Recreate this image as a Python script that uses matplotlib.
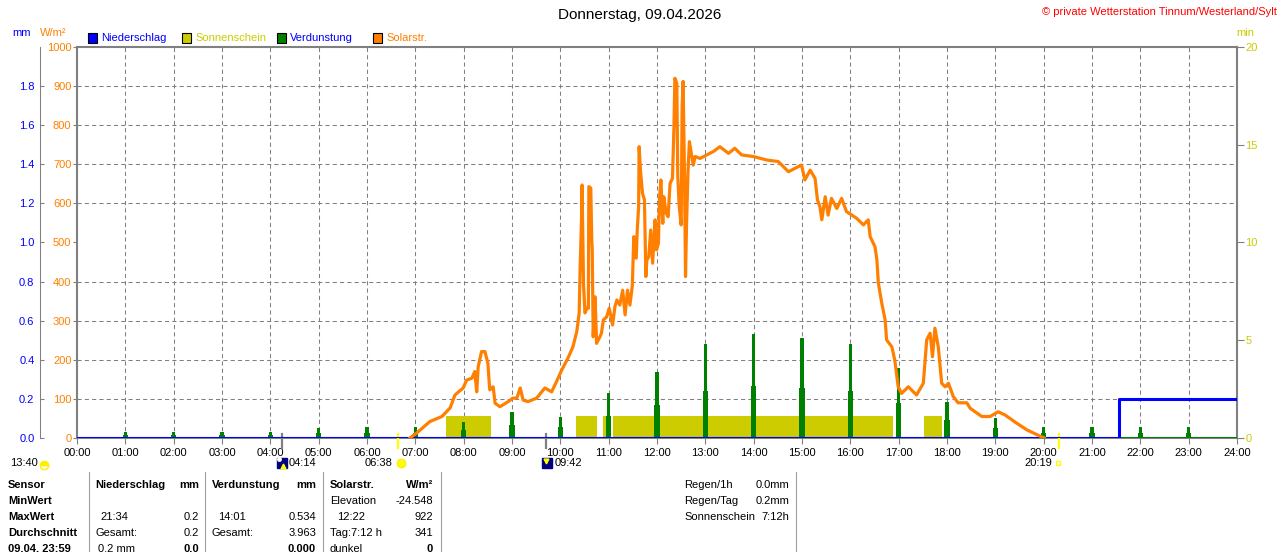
import numpy as np
import matplotlib
matplotlib.use("Agg")
import matplotlib.pyplot as plt
from matplotlib.patches import Rectangle
from matplotlib.lines import Line2D
from matplotlib import transforms

plt.rcParams['font.family'] = ['Liberation Sans', 'DejaVu Sans']
plt.rcParams['font.size'] = 8

# ---- Daten ----
hours = list(range(25))
hour_labels = [f"{h:02d}:00" for h in hours]

# Solarstrahlung W/m2, Zeit in Stunden
solar_t = [6.89, 7.03, 7.30, 7.55, 7.72, 7.82, 7.99, 8.06, 8.17, 8.23, 8.27, 8.30,
           8.37, 8.44, 8.50, 8.54, 8.61, 8.65, 8.75, 8.92, 9.02, 9.10, 9.17, 9.23,
           9.33, 9.51, 9.68, 9.82, 9.92, 10.03, 10.16, 10.26, 10.34, 10.39, 10.41,
           10.44, 10.45, 10.48, 10.51, 10.55, 10.58, 10.59, 10.63, 10.65, 10.66,
           10.68, 10.72, 10.75, 10.82, 10.85, 10.89, 10.96, 11.01, 11.05, 11.08,
           11.13, 11.17, 11.23, 11.29, 11.34, 11.39, 11.44, 11.49, 11.52, 11.57,
           11.59, 11.62, 11.63, 11.66, 11.70, 11.74, 11.77, 11.79, 11.83, 11.87,
           11.91, 11.96, 11.99, 12.03, 12.05, 12.08, 12.12, 12.14, 12.19, 12.23,
           12.27, 12.32, 12.35, 12.37, 12.41, 12.43, 12.46, 12.50, 12.52, 12.54,
           12.57, 12.59, 12.61, 12.64, 12.67, 12.72, 12.75, 12.79, 12.89, 13.17,
           13.30, 13.48, 13.61, 13.75, 13.99, 14.27, 14.51, 14.72, 14.86, 14.99,
           15.06, 15.17, 15.27, 15.32, 15.37, 15.41, 15.48, 15.54, 15.61, 15.72,
           15.82, 15.92, 16.13, 16.27, 16.37, 16.41, 16.51, 16.55, 16.58, 16.65,
           16.72, 16.75, 16.86, 16.92, 16.99, 17.06, 17.20, 17.37, 17.51, 17.58,
           17.65, 17.70, 17.75, 17.82, 17.89, 17.96, 18.03, 18.13, 18.23, 18.41,
           18.48, 18.72, 18.89, 19.06, 19.20, 19.44, 19.65, 19.92, 20.01]
solar_w = [0, 13, 42, 55, 77, 110, 128, 148, 153, 170, 118, 182,
           221, 221, 192, 123, 131, 89, 80, 93, 102, 102, 128, 97,
           93, 102, 128, 118, 144, 174, 205, 233, 272, 320, 438,
           566, 647, 391, 320, 332, 332, 643, 639, 506, 481,
           259, 361, 242, 259, 268, 302, 310, 332, 310, 289,
           336, 353, 340, 378, 315, 378, 340, 391, 515, 460,
           528, 592, 745, 681, 626, 609, 413, 455, 464, 532,
           447, 558, 481, 498, 609, 660, 549, 617, 575, 566,
           651, 664, 792, 920, 907, 668, 592, 545, 847, 912,
           664, 413, 540, 677, 758, 720, 698, 720, 715, 733,
           745, 728, 741, 724, 720, 711, 707, 681, 690, 698,
           660, 685, 664, 609, 592, 558, 617, 570, 613, 587,
           613, 579, 562, 545, 558, 515, 489, 455, 396, 345,
           302, 251, 233, 199, 131, 114, 131, 110, 140, 251,
           268, 208, 281, 233, 140, 131, 140, 106, 90, 90,
           76, 55, 55, 67, 59, 38, 21, 5, 0]

# Verdunstung mm je Stunde (Spitze und breiter Sockel)
evap_h = list(range(1, 24))
evap_peak = [0.03, 0.03, 0.03, 0.03, 0.053, 0.055, 0.055, 0.084, 0.131, 0.106,
             0.229, 0.336, 0.481, 0.534, 0.51, 0.481, 0.357, 0.183, 0.104,
             0.055, 0.055, 0.055, 0.055]
evap_base = [0.015, 0.015, 0.015, 0.015, 0.024, 0.024, 0.027, 0.041, 0.066, 0.056,
             0.11, 0.169, 0.242, 0.268, 0.254, 0.242, 0.177, 0.092, 0.049,
             0.024, 0.024, 0.024, 0.024]

# Sonnenschein-Bloecke (min)
sun_start = [7.64, 10.32, 10.88, 11.10, 17.52]
sun_end = [8.56, 10.75, 11.04, 16.88, 17.89]
sun_min = 1.1

# Niederschlag mm
rain_t = [0, 21 + 34 / 60, 24]
rain_mm = [0, 0.2, 0.2]

# Sonne / Mond
moon_rise = 4 + 14 / 60
sun_rise = 6 + 38 / 60
moon_set = 9 + 42 / 60
sun_set = 20 + 19 / 60

BLUE = '#0000FF'
ORANGE = '#FF8000'
YELLOW = '#CCCC00'
GREEN = '#008000'
GREY = '#808080'

W, H = 1280, 552


def fx(x):
    return x / W


def fy(y):
    return 1 - y / H


fig = plt.figure(figsize=(12.8, 5.52), dpi=100)
L, R, T, B = 77, 1237, 47, 438
ax = fig.add_axes([fx(L), fy(B), (R - L) / W, (B - T) / H])
ax_mm = ax.twinx()
ax_w = ax.twinx()

# Basis-Achse: Minuten rechts, Gitter
ax.set_xlim(0, 24)
ax.set_ylim(0, 20)
ax.set_xticks(hours)
ax.set_xticklabels(hour_labels)
ax.tick_params(axis='x', length=4, color=GREY, pad=3, labelsize=8)
ax.yaxis.tick_right()
ax.set_yticks([0, 5, 10, 15, 20])
ax.set_yticks(np.arange(0, 21, 2), minor=True)
ax.tick_params(axis='y', which='major', length=5, color=GREY, pad=1, labelcolor=YELLOW, labelsize=8)
ax.tick_params(axis='y', which='minor', length=0)
ax.grid(axis='x', which='major', ls=(0, (4, 3)), color=GREY, lw=0.75)
ax.grid(axis='y', which='minor', ls=(0, (4, 3)), color=GREY, lw=0.75)
ax.set_axisbelow(True)
for s in ['left', 'top', 'right']:
    ax.spines[s].set_color(GREY)
    ax.spines[s].set_linewidth(1.5)
ax.spines['bottom'].set_color(GREY)
ax.spines['bottom'].set_linewidth(0.75)

# mm-Achse links aussen (37 px neben der Hauptachse)
ax_mm.set_ylim(0, 2)
ax_mm.yaxis.tick_left()
mm_ticks = np.arange(0, 1.81, 0.2)
ax_mm.set_yticks(mm_ticks)
ax_mm.set_yticklabels([f"{v:.1f}" for v in mm_ticks])
ax_mm.tick_params(axis='y', direction='in', length=3, color=GREY, pad=4, labelcolor=BLUE, labelsize=8)
for s in ax_mm.spines.values():
    s.set_visible(False)
ax_mm.spines['left'].set_visible(True)
ax_mm.spines['left'].set_position(('outward', 37 * 0.72))
ax_mm.spines['left'].set_color(GREY)
ax_mm.spines['left'].set_linewidth(0.75)

# W/m2-Achse links
ax_w.set_ylim(0, 1000)
ax_w.yaxis.tick_left()
ax_w.set_yticks(np.arange(0, 1001, 100))
ax_w.tick_params(axis='y', length=3, color=GREY, pad=1, labelcolor=ORANGE, labelsize=8)
for s in ax_w.spines.values():
    s.set_visible(False)

ax.set_zorder(0)
ax_mm.set_zorder(1)
ax_w.set_zorder(2)
ax_mm.patch.set_visible(False)
ax_w.patch.set_visible(False)

# Sonnenschein
ax.bar(sun_start, sun_min, width=np.array(sun_end) - np.array(sun_start),
       align='edge', color=YELLOW, zorder=2)

# Verdunstung
ax_mm.axhline(0, color=GREEN, lw=2.2)
ax_mm.bar(evap_h, evap_base, width=0.11, color=GREEN)
ax_mm.bar(evap_h, evap_peak, width=0.065, color=GREEN)

# Niederschlag
ax_mm.plot(rain_t, rain_mm, drawstyle='steps-post', color=BLUE, lw=2.2)

# Solarstrahlung
ax_w.plot(solar_t, solar_w, color=ORANGE, lw=2.3)

# Sonnen-/Mondmarken unter der Achse
tr = ax.get_xaxis_transform()
for t, c in [(moon_rise, GREY), (moon_set, GREY), (sun_rise, '#FFFF00'), (sun_set, '#FFFF00')]:
    ax.plot([t, t], [0.01, -0.025], color=c, lw=1.6, transform=tr, clip_on=False, zorder=5)

ylab = (B - 463) / (B - T)


def off(dx):
    return transforms.offset_copy(tr, fig=fig, x=dx, y=0, units='dots')


ax.text(moon_rise, ylab, "04:14", transform=off(7), ha='left', va='center', clip_on=False)
ax.plot([moon_rise], [ylab], marker='s', ms=7.5, color='#000080', transform=off(0), clip_on=False)
ax.plot([moon_rise], [ylab - 0.008], marker='^', ms=3.5, color='#FFFF00', transform=off(1), clip_on=False)
ax.plot([moon_rise], [ylab + 0.01], marker='o', ms=2.5, color='white', transform=off(-3), clip_on=False)

ax.text(sun_rise, ylab, "06:38", transform=off(-5), ha='right', va='center', clip_on=False)
ax.plot([sun_rise], [ylab], marker='o', ms=6, color='#FFFF00', mec='#FFEE00', transform=off(3), clip_on=False)

ax.text(moon_set, ylab, "09:42", transform=off(9), ha='left', va='center', clip_on=False)
ax.plot([moon_set], [ylab], marker='s', ms=7.5, color='#000080', transform=off(1), clip_on=False)
ax.plot([moon_set], [ylab + 0.006], marker='v', ms=3.5, color='#FFFF00', transform=off(0), clip_on=False)

ax.text(sun_set, ylab, "20:19", transform=off(-7), ha='right', va='center', clip_on=False)
ax.plot([sun_set], [ylab], marker='s', ms=3.5, mfc='none', mec='#FFFF00', mew=1, transform=off(-1), clip_on=False)

fig.text(fx(10), fy(463), "13:40", ha='left', va='center')
fig.add_artist(Line2D([fx(44)], [fy(465)], marker='o', ms=6, color='#FFEE00',
                      fillstyle='top', mec='#FFEE00', transform=fig.transFigure))

# Kopf
fig.text(0.5, fy(15), "Donnerstag, 09.04.2026", ha='center', va='center', fontsize=11)
fig.text(fx(1277), fy(12), "© private Wetterstation Tinnum/Westerland/Sylt",
         ha='right', va='center', color='#FF0000', fontsize=8)
fig.text(fx(22), fy(33), "mm", ha='center', va='center', color=BLUE)
fig.text(fx(53), fy(33), "W/m²", ha='center', va='center', color=ORANGE)
fig.text(fx(1245), fy(33), "min", ha='center', va='center', color=YELLOW)

legend_items = [("Niederschlag", BLUE, BLUE, 88),
                ("Sonnenschein", YELLOW, YELLOW, 182),
                ("Verdunstung", GREEN, BLUE, 277),
                ("Solarstr.", ORANGE, ORANGE, 373)]
for name, fc, tc, x0 in legend_items:
    fig.add_artist(Rectangle((fx(x0), fy(43)), 9 / W, 10 / H, facecolor=fc,
                             edgecolor='black', lw=0.8, transform=fig.transFigure))
    fig.text(fx(x0 + 13), fy(38), name, ha='left', va='center', color=tc)

# Tabelle unten
row_y = [485, 501, 517, 533, 549]
sensor_col = ["Sensor", "MinWert", "MaxWert", "Durchschnitt", "09.04. 23:59"]
for y, s in zip(row_y, sensor_col):
    fig.text(fx(8), fy(y), s, ha='left', va='center', fontweight='bold')

table_cells = [
    # (x, row, text, align, bold)
    (95, 0, "Niederschlag", 'left', True), (199, 0, "mm", 'right', True),
    (100, 2, "21:34", 'left', False), (199, 2, "0.2", 'right', False),
    (95, 3, "Gesamt:", 'left', False), (199, 3, "0.2", 'right', False),
    (98, 4, "0.2 mm", 'left', False), (199, 4, "0.0", 'right', True),
    (212, 0, "Verdunstung", 'left', True), (316, 0, "mm", 'right', True),
    (218, 2, "14:01", 'left', False), (316, 2, "0.534", 'right', False),
    (212, 3, "Gesamt:", 'left', False), (316, 3, "3.963", 'right', False),
    (316, 4, "0.000", 'right', True),
    (330, 0, "Solarstr.", 'left', True), (433, 0, "W/m²", 'right', True),
    (330, 1, "Elevation", 'left', False), (433, 1, "-24.548", 'right', False),
    (337, 2, "12:22", 'left', False), (433, 2, "922", 'right', False),
    (330, 3, "Tag:7:12 h", 'left', False), (433, 3, "341", 'right', False),
    (330, 4, "dunkel", 'left', False), (433, 4, "0", 'right', True),
    (684, 0, "Regen/1h", 'left', False), (789, 0, "0.0mm", 'right', False),
    (684, 1, "Regen/Tag", 'left', False), (789, 1, "0.2mm", 'right', False),
    (684, 2, "Sonnenschein", 'left', False), (789, 2, "7:12h", 'right', False),
]
for x, r, s, ha, bold in table_cells:
    fig.text(fx(x), fy(row_y[r]), s, ha=ha, va='center',
             fontweight='bold' if bold else 'normal')

for x in [88.6, 205, 323, 441, 795.5]:
    fig.add_artist(Line2D([fx(x), fx(x)], [fy(472), 0], color='#A0A0A0', lw=0.8,
                          transform=fig.transFigure))

fig.savefig("out.png", dpi=100)
